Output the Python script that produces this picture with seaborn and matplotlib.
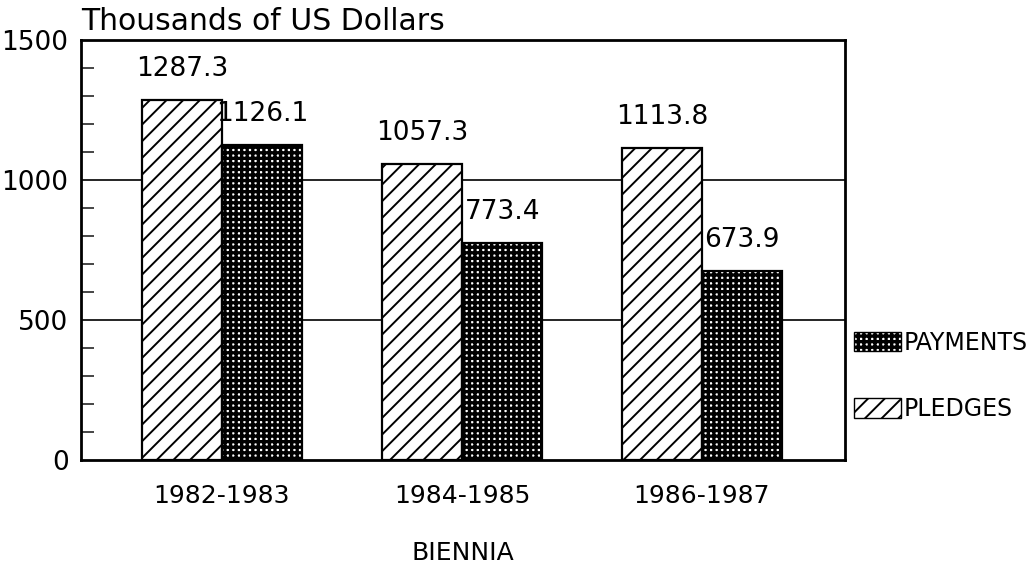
import pandas as pd
import matplotlib.pyplot as plt
import matplotlib.patches as mpatches
import seaborn as sns

biennia = ['1982-1983', '1984-1985', '1986-1987']
pledges = [1287.3, 1057.3, 1113.8]
payments = [1126.1, 773.4, 673.9]

df = pd.DataFrame({
    'Biennium': biennia * 2,
    'Amount': pledges + payments,
    'Type': ['PLEDGES'] * 3 + ['PAYMENTS'] * 3,
})

sns.set_style('white')
plt.rcParams['font.family'] = ['DejaVu Sans']
plt.rcParams['hatch.linewidth'] = 1.4

fig = plt.figure(figsize=(10.29, 5.72), dpi=100)
ax = fig.add_axes([81 / 1029, 1 - 460 / 572, (845 - 81) / 1029, 420 / 572])

sns.barplot(df, x='Biennium', y='Amount', hue='Type', hue_order=['PLEDGES', 'PAYMENTS'],
            width=0.67, edgecolor='black', linewidth=1.6, ax=ax, legend=False)

hatches = {'PLEDGES': '//', 'PAYMENTS': '+++'}
hatch_lw = {'PLEDGES': 1.4, 'PAYMENTS': 2.4}


def style_patch(p, name):
    p.set_facecolor('white')
    p.set_edgecolor('black')
    p.set_hatch(hatches[name])
    if hasattr(p, 'set_hatch_linewidth'):
        p.set_hatch_linewidth(hatch_lw[name])


for cont, name in zip(ax.containers, ['PLEDGES', 'PAYMENTS']):
    for bar in cont:
        style_patch(bar, name)
    ax.bar_label(cont, fmt='%.1f', padding=13, fontsize=19, color='black')

ax.set_ylim(0, 1500)
ax.set_xlim(-0.5875, 2.596)
ax.set_yticks([0, 500, 1000, 1500])
ax.set_yticks(range(0, 1501, 100), minor=True)
ax.tick_params(axis='y', which='minor', direction='in', length=9, width=1.2, left=True)
ax.tick_params(axis='y', which='major', length=0, labelsize=19, pad=9, labelcolor='black')
ax.tick_params(axis='x', length=0, labelsize=18, pad=17, labelcolor='black')
for y in [500, 1000]:
    ax.axhline(y, color='black', lw=1.2, zorder=0)
for s in ax.spines.values():
    s.set_linewidth(2)
    s.set_color('black')

ax.set_ylabel('')
ax.set_xlabel('BIENNIA', fontsize=18, labelpad=24, color='black')
ax.text(0, 1.01, 'Thousands of US Dollars', transform=ax.transAxes,
        fontsize=21.5, ha='left', va='bottom', color='black')

names = ['PAYMENTS', 'PLEDGES']
handles = []
for name in names:
    h = mpatches.Patch(label=name)
    style_patch(h, name)
    handles.append(h)
leg = fig.legend(handles=handles, loc='center left', bbox_to_anchor=(842 / 1029, 1 - 376 / 572),
                 frameon=False, fontsize=17, handlelength=2.0, handleheight=0.9,
                 handletextpad=0.1, labelspacing=1.8, borderpad=0, labelcolor='black')
for p, name in zip(leg.get_patches(), names):
    style_patch(p, name)

plt.savefig('out.png', dpi=100)
